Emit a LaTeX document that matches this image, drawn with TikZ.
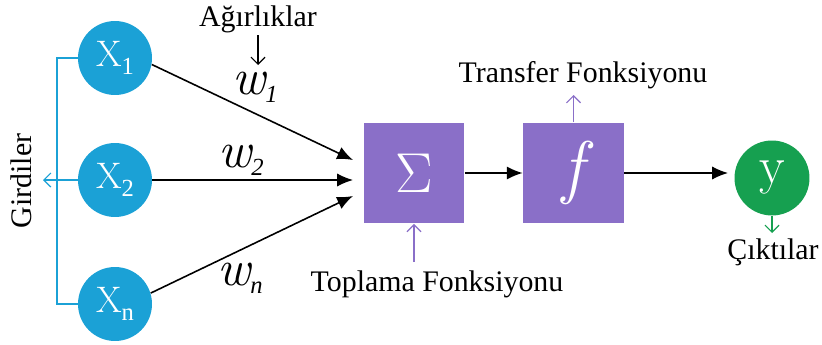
\documentclass[tikz,border=0pt]{standalone}
\usepackage{fontspec}
\setmainfont{Liberation Serif}
\newfontfamily\harffont{Latin Modern Roman}
\usetikzlibrary{arrows.meta}

\definecolor{girdimavi}{RGB}{27,161,214}
\definecolor{kutumor}{RGB}{138,111,200}
\definecolor{ciktiyesil}{RGB}{22,160,80}

% big letters in the circles, blocks and on the weights
\newcommand{\harf}[2]{{\harffont\fontsize{#1}{#1}\selectfont #2}}
% lowered index for X_1, w_1 ...
\newcommand{\indis}[1]{\raisebox{-0.55ex}{\fontsize{14}{14}\selectfont #1}}

\begin{document}
\begin{tikzpicture}[
    x=0.02cm, y=-0.02cm,
    every node/.style={font=\fontsize{17}{20}\selectfont, inner sep=1pt},
    girdi/.style={circle, fill=girdimavi, minimum size=1.48cm, text=white},
    islem/.style={rectangle, fill=kutumor, minimum size=2.02cm, text=white},
    cikti/.style={circle, fill=ciktiyesil, minimum size=1.5cm, text=white},
    agirlik/.style={font=\fontsize{17}{20}\selectfont\itshape},
    ok/.style={-{Latex[length=9pt,width=7.5pt]}, line width=0.9pt},
    ince/.style={-{Straight Barb[length=4pt,width=8pt]}, line width=0.7pt}
]
    \useasboundingbox (0,0) rectangle (822,345);

    % inputs
    \node[girdi] (x1) at (115,58) {\harf{21}{X}\indis{1}};
    \node[girdi] (x2) at (115,180) {\harf{21}{X}\indis{2}};
    \node[girdi] (xn) at (115,304) {\harf{21}{X}\indis{n}};

    % bracket round the inputs
    \coordinate (sol) at (57,180);
    \coordinate (girdiok) at (43,180);
    \draw[girdimavi, line width=0.7pt] (x1.west) -| (sol) |- (xn.west);
    \draw[ince, girdimavi] (x2.west) -- (girdiok);
    \node[rotate=90] (girdiler) at (21,181) {Girdiler};

    % summing and transfer blocks
    \node[islem] (topla) at (414,173) {\harf{32}{Σ}};
    \node[islem] (transfer) at (573.5,173) {\harf{40}{\itshape f}};
    \node[cikti] (y) at (772,178) {\harf{30}{y}};

    % weighted connections
    \coordinate (t1) at (353,160);
    \coordinate (t2) at (353,180);
    \coordinate (tn) at (353,196);
    \draw[ok] (x1.-10) -- (t1);
    \draw[ok] (x2.east) -- (t2);
    \draw[ok] (xn.17) -- (tn);
    \node[agirlik] (w1) at (255,87) {\harf{29}{w}\indis{1}};
    \node[agirlik] (w2) at (241,160) {\harf{29}{w}\indis{2}};
    \node[agirlik] (wn) at (240,278) {\harf{29}{w}\indis{n}};

    \node (agirliklar) at (258,19) {Ağırlıklar};
    \coordinate (aust) at (258,35);
    \coordinate (w1ust) at (258,65);
    \draw[ince] (aust) -- (w1ust);

    % flow to the output
    \coordinate (yok) at (728,173);
    \draw[ok] (topla) -- (transfer);
    \draw[ok] (transfer.east) -- (yok);

    % labels under and over the blocks
    \node (toplamaf) at (437,284) {Toplama Fonksiyonu};
    \coordinate (toplaalt) at (414,262);
    \draw[ince, kutumor] (toplaalt) -- (topla.south);
    \node (transferf) at (583,75) {Transfer Fonksiyonu};
    \coordinate (transferust) at (573.5,95);
    \draw[ince, kutumor] (transfer.north) -- (transferust);

    \node (ciktilar) at (773,252) {Çıktılar};
    \coordinate (yalt) at (772,233);
    \draw[ince, ciktiyesil] (y.south) -- (yalt);
\end{tikzpicture}
\end{document}
